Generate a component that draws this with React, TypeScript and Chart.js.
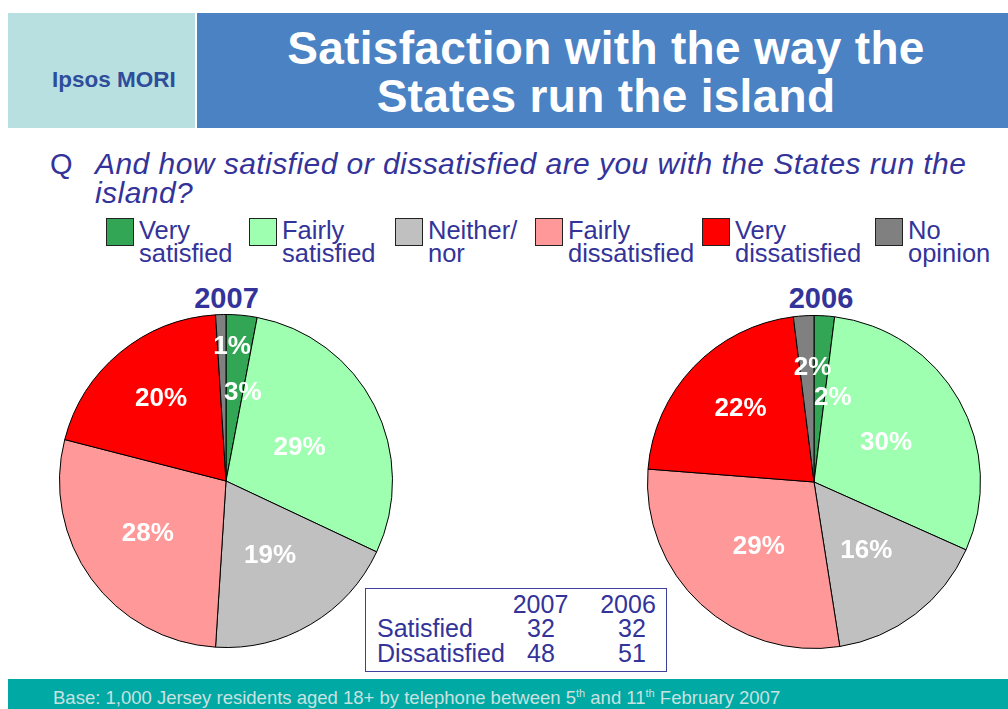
import React, { useEffect, useRef } from "react";
import { Chart, registerables } from "chart.js";

Chart.register(...registerables);

// ---------- data ----------
const CATEGORIES = [
  "Very satisfied",
  "Fairly satisfied",
  "Neither/ nor",
  "Fairly dissatisfied",
  "Very dissatisfied",
  "No opinion",
];
const LEGEND_LINES = [
  ["Very", "satisfied"],
  ["Fairly", "satisfied"],
  ["Neither/", "nor"],
  ["Fairly", "dissatisfied"],
  ["Very", "dissatisfied"],
  ["No", "opinion"],
];
const VALUES_2007 = [3, 29, 19, 28, 20, 1];
const VALUES_2006 = [2, 30, 16, 29, 22, 2];
const YEARS = ["2007", "2006"];
const SUMMARY_ROWS = ["Satisfied", "Dissatisfied"];
const SUMMARY_2007 = [32, 48];
const SUMMARY_2006 = [32, 51];

// ---------- styles ----------
const COLORS = ["#33A655", "#9EFFB0", "#C0C0C0", "#FF9999", "#FF0000", "#808080"];
// label placement per slice: [fraction of radius, angle shift in degrees]
const LABEL_PLACE_2007 = [
  [0.55, 5.2],
  [0.49, 1.4],
  [0.51, -0.7],
  [0.56, 3],
  [0.64, 2],
  [0.82, 4.3],
];
const LABEL_PLACE_2006 = [
  [0.53, 8.8],
  [0.5, -0.7],
  [0.51, -0.6],
  [0.5, -1.3],
  [0.63, 1.9],
  [0.7, 2.9],
];
const FONT = '"Liberation Sans", Arial, Helvetica, sans-serif';
const NAVY = "#333399";

const sliceLabelPlugin = {
  id: "sliceLabels",
  afterDatasetsDraw(chart: any, _args: any, opts: any) {
    const ctx = chart.ctx;
    const meta = chart.getDatasetMeta(0);
    const data = chart.data.datasets[0].data as number[];
    const size = 26;
    ctx.save();
    ctx.font = `bold ${size}px ${FONT}`;
    ctx.fillStyle = "#FFFFFF";
    ctx.textAlign = "center";
    ctx.textBaseline = "alphabetic";
    meta.data.forEach((el: any, i: number) => {
      const p = el.getProps(["x", "y", "startAngle", "endAngle", "outerRadius"], true);
      const [frac, shift] = opts.place[i];
      const a = (p.startAngle + p.endAngle) / 2 + (shift * Math.PI) / 180;
      const r = p.outerRadius * frac;
      const lx = p.x + Math.cos(a) * r;
      const ly = p.y + Math.sin(a) * r;
      ctx.fillText(`${data[i]}%`, lx, ly + size * 0.358);
    });
    ctx.restore();
  },
};

function Pie({ values, place, left, top }: { values: number[]; place: number[][]; left: number; top: number }) {
  const ref = useRef<HTMLCanvasElement>(null);
  useEffect(() => {
    const chart = new Chart(ref.current as HTMLCanvasElement, {
      type: "pie",
      data: {
        labels: CATEGORIES,
        datasets: [
          {
            data: values,
            backgroundColor: COLORS,
            borderColor: "#000000",
            borderWidth: 1,
          },
        ],
      },
      options: {
        responsive: false,
        animation: false,
        devicePixelRatio: 1,
        layout: { padding: 3 },
        plugins: {
          legend: { display: false },
          tooltip: { enabled: false },
          // @ts-ignore
          sliceLabels: { place },
        },
      } as any,
      plugins: [sliceLabelPlugin as any],
    });
    return () => chart.destroy();
  }, []);
  return (
    <canvas
      ref={ref}
      width={340}
      height={340}
      style={{ position: "absolute", left, top, width: 340, height: 340 }}
    />
  );
}

function T({
  x,
  y,
  size,
  children,
  bold = false,
  italic = false,
  color = NAVY,
  align = "left",
  spacing = 0,
}: any) {
  const lh = size * 1.2;
  const top = y - ((lh - 1.117 * size) / 2 + 0.905 * size);
  const style: any = {
    position: "absolute",
    top,
    fontSize: size,
    lineHeight: lh + "px",
    fontFamily: FONT,
    fontWeight: bold ? 700 : 400,
    fontStyle: italic ? "italic" : "normal",
    color,
    whiteSpace: "nowrap",
    letterSpacing: spacing,
  };
  if (align === "center") {
    style.left = x;
    style.transform = "translateX(-50%)";
  } else {
    style.left = x;
  }
  return <div style={style}>{children}</div>;
}

const LEGEND_X = [106, 249, 395, 535, 702, 875];

export default function App() {
  return (
    <div
      style={{
        position: "absolute",
        left: 0,
        top: 0,
        width: 1008,
        height: 709,
        background: "#FFFFFF",
        overflow: "hidden",
        fontFamily: FONT,
      }}
    >
      {/* header */}
      <div style={{ position: "absolute", left: 8, top: 13, width: 187, height: 115, background: "#B8E0E0" }} />
      <div style={{ position: "absolute", left: 197, top: 13, width: 811, height: 115, background: "#4A82C4" }} />
      <T x={52} y={87} size={22.5} bold color="#2E4D9B">Ipsos MORI</T>
      <T x={606} y={65} size={46} bold color="#FFFFFF" align="center" spacing={0.3}>
        Satisfaction with the way the
      </T>
      <T x={606} y={113} size={46} bold color="#FFFFFF" align="center" spacing={0.3}>
        States run the island
      </T>

      {/* question */}
      <T x={50} y={174} size={29}>Q</T>
      <T x={95} y={174} size={30} italic spacing={0.45}>
        And how satisfied or dissatisfied are you with the States run the
      </T>
      <T x={95} y={203} size={30} italic spacing={0.45}>
        island?
      </T>

      {/* legend */}
      {CATEGORIES.map((c, i) => (
        <React.Fragment key={c}>
          <div
            style={{
              position: "absolute",
              left: LEGEND_X[i],
              top: 218,
              width: 28,
              height: 28,
              boxSizing: "border-box",
              border: "1.5px solid #222222",
              background: COLORS[i],
            }}
          />
          <T x={LEGEND_X[i] + 33} y={239.5} size={25.5}>{LEGEND_LINES[i][0]}</T>
          <T x={LEGEND_X[i] + 33} y={262} size={25.5}>{LEGEND_LINES[i][1]}</T>
        </React.Fragment>
      ))}

      {/* pie titles */}
      <T x={226.5} y={308} size={29} bold align="center">{YEARS[0]}</T>
      <T x={821} y={308} size={29} bold align="center">{YEARS[1]}</T>

      <Pie values={VALUES_2007} place={LABEL_PLACE_2007} left={56} top={311} />
      <Pie values={VALUES_2006} place={LABEL_PLACE_2006} left={644} top={312} />

      {/* summary box */}
      <div
        style={{
          position: "absolute",
          left: 365,
          top: 588,
          width: 302,
          height: 84,
          boxSizing: "border-box",
          border: "1.5px solid #40409F",
          background: "#FFFFFF",
        }}
      />
      <T x={540.5} y={613} size={25} align="center">{YEARS[0]}</T>
      <T x={628} y={613} size={25} align="center">{YEARS[1]}</T>
      {SUMMARY_ROWS.map((r, i) => (
        <React.Fragment key={r}>
          <T x={377} y={637 + i * 25} size={25}>{r}</T>
          <T x={541} y={637 + i * 25} size={25} align="center">{SUMMARY_2007[i]}</T>
          <T x={632} y={637 + i * 25} size={25} align="center">{SUMMARY_2006[i]}</T>
        </React.Fragment>
      ))}

      {/* footer */}
      <div style={{ position: "absolute", left: 8, top: 679, width: 1000, height: 30, background: "#00A9A4" }} />
      <T x={53} y={705} size={18.5} color="#C8E2E0">
        Base: 1,000 Jersey residents aged 18+ by telephone between 5
        <sup style={{ fontSize: 11, verticalAlign: "7px", lineHeight: 0 }}>th</sup> and 11
        <sup style={{ fontSize: 11, verticalAlign: "7px", lineHeight: 0 }}>th</sup> February 2007
      </T>
    </div>
  );
}
